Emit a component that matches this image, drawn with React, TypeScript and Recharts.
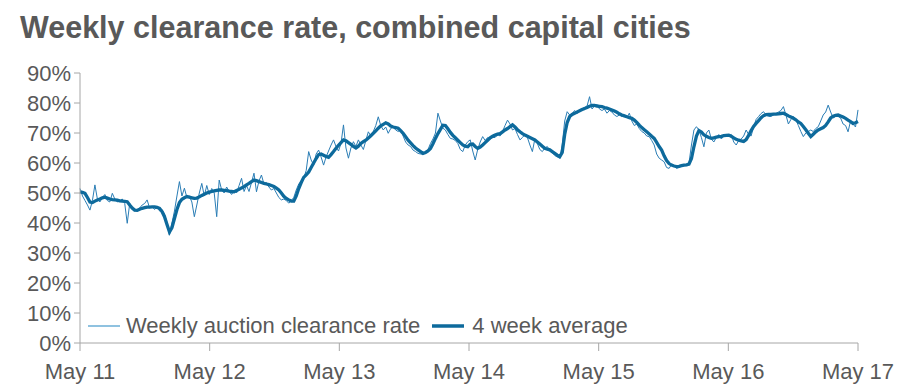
import { Line, LineChart, XAxis, YAxis } from "recharts";

// Weekly auction clearance rate (%), one array per year from May of each year
const weekly2011 = [
  51.5, 49.0, 47.5, 46.0, 44.3, 47.5, 52.7, 48.0, 47.0, 48.5, 49.5, 47.5, 47.0,
  49.9, 48.0, 47.0, 47.5, 48.0, 46.5, 39.9, 46.5, 45.0, 44.0, 44.5, 45.0, 46.0,
  46.5, 47.7, 45.0, 45.5, 44.5, 45.5, 44.0, 44.5, 43.0, 40.0, 36.0, 40.0, 44.0,
  49.0, 53.8, 49.0, 51.6, 48.5, 49.0, 47.0, 42.1, 46.0, 50.0, 53.2, 49.0, 52.5,
];
const weekly2012 = [
  49.5, 51.5, 50.0, 42.1, 54.3, 51.0, 50.0, 52.0, 50.5, 49.5, 51.0, 50.0, 52.5,
  54.9, 50.5, 52.5, 50.5, 53.5, 56.6, 50.4, 54.0, 56.0, 53.0, 53.5, 52.0, 51.0,
  51.5, 50.0, 48.5, 47.7, 48.0, 47.5, 46.6, 47.5, 48.5, 51.0, 53.0, 54.0, 55.0,
  57.5, 63.8, 61.0, 59.3, 63.0, 64.3, 62.0, 59.3, 62.0, 64.0, 66.0, 67.7, 65.5,
];
const weekly2013 = [
  64.0, 66.5, 72.7, 65.0, 61.6, 65.0, 67.1, 65.5, 67.7, 66.0, 64.5, 67.5, 70.4,
  69.0, 70.5, 72.5, 75.4, 72.5, 71.0, 72.0, 69.9, 71.5, 72.0, 71.0, 70.5, 71.0,
  69.0, 67.0, 66.0, 65.5, 64.3, 63.8, 63.2, 63.0, 63.0, 63.5, 64.5, 66.5, 68.0,
  70.0, 76.6, 74.0, 71.6, 71.0, 69.5, 68.2, 68.0, 67.5, 66.5, 64.5, 63.8, 66.0,
];
const weekly2014 = [
  67.1, 67.7, 64.0, 61.0, 64.5, 67.0, 68.8, 67.5, 68.5, 68.0, 68.5, 68.5, 69.5,
  69.0, 70.5, 72.5, 74.3, 73.0, 71.0, 71.5, 69.5, 67.7, 68.5, 69.5, 68.5, 66.0,
  63.8, 68.0, 66.5, 64.5, 63.8, 65.0, 65.5, 64.0, 63.5, 62.5, 62.0, 61.6, 66.0,
  74.0, 77.1, 76.0, 76.5, 77.5, 76.5, 77.8, 78.0, 78.5, 79.0, 82.1, 78.0, 79.0,
];
const weekly2015 = [
  79.5, 78.0, 77.5, 78.0, 76.6, 77.5, 77.0, 76.0, 75.5, 76.0, 75.5, 76.0, 75.0,
  76.6, 74.0, 72.5, 73.0, 71.5, 70.5, 70.0, 69.0, 68.8, 67.5, 66.0, 63.0, 61.6,
  61.0, 60.4, 58.5, 58.2, 59.5, 59.0, 58.2, 58.5, 59.0, 59.5, 59.5, 60.0, 66.0,
  71.0, 72.1, 71.0, 68.5, 65.4, 70.0, 71.0, 68.0, 67.0, 68.5, 69.5, 68.0, 69.0,
];
const weekly2016 = [
  69.5, 69.0, 69.5, 67.0, 66.0, 67.5, 68.0, 69.0, 71.0, 69.5, 69.0, 72.0, 74.5,
  75.5, 76.5, 77.1, 76.0, 75.5, 75.5, 76.0, 76.5, 77.0, 77.5, 78.8, 76.0, 73.0,
  74.5, 75.5, 74.5, 72.5, 70.5, 68.8, 70.0, 70.5, 71.0, 70.5, 71.5, 72.1, 74.0,
  76.0, 77.0, 79.3, 77.0, 75.0, 75.5, 75.5, 75.0, 73.0, 72.5, 70.4, 74.0, 73.0,
  72.0, 77.7,
];

// 4 week average (%)
const avg2011 = [
  50.4, 50.2, 49.9, 48.5, 47.0, 46.8, 47.3, 47.7, 48.0, 48.4, 48.6, 48.3, 48.0,
  47.8, 47.7, 47.6, 47.4, 47.3, 47.2, 47.1, 46.0, 45.0, 44.3, 44.2, 44.6, 44.9,
  45.1, 45.3, 45.3, 45.4, 45.4, 45.2, 44.9, 43.8, 42.1, 39.5, 37.0, 38.5, 41.5,
  44.5, 46.8, 47.9, 48.4, 48.8, 48.6, 48.4, 48.2, 48.3, 48.7, 49.2, 49.6, 50.0,
];
const avg2012 = [
  50.3, 50.5, 50.7, 50.9, 51.0, 51.0, 50.9, 50.8, 50.6, 50.5, 50.4, 50.8, 51.2,
  51.7, 52.1, 52.7, 53.2, 53.8, 54.3, 54.1, 53.8, 53.5, 53.2, 53.0, 52.8, 52.5,
  52.2, 51.6, 51.0, 50.0, 48.9, 48.2, 47.7, 47.3, 47.3, 49.0, 51.5, 53.5, 55.2,
  56.0, 57.0, 58.5, 60.0, 61.5, 62.8, 63.0, 62.6, 62.2, 61.9, 62.8, 63.8, 64.9,
];
const avg2013 = [
  65.9, 66.8, 67.7, 67.4, 66.8, 66.2, 65.5, 65.0, 65.6, 66.5, 67.1, 67.6, 68.3,
  69.1, 69.9, 70.7, 71.6, 72.4, 72.9, 73.4, 73.0, 72.3, 72.0, 71.8, 71.6, 70.8,
  69.9, 68.8, 67.6, 66.7, 65.8, 65.0, 64.4, 63.8, 63.2, 63.5, 64.0, 64.8, 66.4,
  68.2, 69.8, 71.2, 72.6, 72.5, 71.4, 70.2, 69.2, 68.4, 67.6, 66.8, 66.0, 65.6,
];
const avg2014 = [
  65.4, 66.2, 66.3, 65.5, 64.9, 65.3, 66.0, 66.8, 67.6, 68.4, 68.9, 69.3, 69.6,
  69.8, 70.4, 71.0, 71.5, 72.1, 72.7, 72.0, 71.1, 70.4, 69.8, 69.3, 68.9, 68.5,
  68.1, 67.7, 67.0, 66.3, 65.6, 64.9, 64.6, 64.4, 63.8, 63.2, 62.6, 62.1, 63.5,
  69.5, 73.5, 75.5, 76.2, 76.6, 77.0, 77.4, 77.8, 78.2, 78.5, 78.9, 79.2, 79.2,
];
const avg2015 = [
  79.0, 78.9, 78.8, 78.5, 78.3, 78.0, 77.7, 77.3, 76.9, 76.4, 76.0, 75.7, 75.4,
  75.1, 74.9, 74.3, 73.5, 72.6, 71.8, 71.1, 70.4, 69.7, 68.9, 68.2, 66.9, 65.5,
  64.3, 62.4, 60.8, 59.8, 59.3, 59.0, 58.8, 58.9, 59.1, 59.3, 59.4, 59.6, 61.5,
  65.5, 69.0, 70.8, 70.3, 69.4, 68.9, 68.5, 68.2, 68.4, 68.6, 68.8, 68.9, 69.1,
];
const avg2016 = [
  69.2, 69.3, 68.9, 68.4, 67.9, 67.6, 67.4, 67.2, 67.8, 69.2, 70.8, 72.2, 73.2,
  74.1, 75.1, 75.8, 76.1, 76.2, 76.2, 76.3, 76.3, 76.4, 76.5, 76.6, 76.2, 75.7,
  75.3, 74.9, 74.4, 73.7, 73.2, 72.2, 71.1, 69.9, 68.8, 69.6, 70.4, 71.0, 71.4,
  71.8, 72.5, 73.7, 75.0, 75.6, 75.9, 76.0, 75.7, 75.3, 74.9, 74.3, 73.8, 73.2,
  73.4, 73.8,
];

const tickLabels = ["May 11", "May 12", "May 13", "May 14", "May 15", "May 16", "May 17"];
const tickWeeks = [0, 52.17, 104.33, 156.5, 208.67, 260.83, 313];
const yTicks = [0, 10, 20, 30, 40, 50, 60, 70, 80, 90];

const weekly = [
  ...weekly2011,
  ...weekly2012,
  ...weekly2013,
  ...weekly2014,
  ...weekly2015,
  ...weekly2016,
];
const average = [...avg2011, ...avg2012, ...avg2013, ...avg2014, ...avg2015, ...avg2016];

const data = weekly.map((v, i) => ({ week: i, weekly: v, avg: average[i] }));

const FONT = "'Liberation Sans', Arial, sans-serif";
const TEXT = "#595959";
const AXIS = "#a6a6a6";
const THIN = "#2a7db5";
const THICK = "#0d6a9c";

function ChartLegend() {
  return (
    <div
      style={{
        position: "absolute",
        left: 86,
        top: 313,
        display: "flex",
        alignItems: "center",
        fontFamily: FONT,
        fontSize: 22,
        color: TEXT,
        whiteSpace: "nowrap",
      }}
    >
      <svg width={36} height={10}>
        <line x1={2} y1={5} x2={34} y2={5} stroke="#6aaed6" strokeWidth={1.5} />
      </svg>
      <span style={{ marginLeft: 4, marginRight: 10 }}>Weekly auction clearance rate</span>
      <svg width={36} height={10}>
        <line x1={2} y1={5} x2={34} y2={5} stroke={THICK} strokeWidth={3.5} />
      </svg>
      <span style={{ marginLeft: 6 }}>4 week average</span>
    </div>
  );
}

export default function App() {
  return (
    <div
      style={{
        position: "absolute",
        left: 0,
        top: 0,
        width: 903,
        height: 392,
        background: "#fff",
        overflow: "hidden",
      }}
    >
      <div
        style={{
          position: "absolute",
          left: 20,
          top: 10,
          fontFamily: FONT,
          fontWeight: "bold",
          fontSize: 30.5,
          color: TEXT,
          whiteSpace: "nowrap",
        }}
      >
        Weekly clearance rate, combined capital cities
      </div>
      <div style={{ position: "absolute", left: 0, top: 0 }}>
        <LineChart
          width={903}
          height={392}
          data={data}
          margin={{ top: 73, right: 45, bottom: 0, left: 0 }}
        >
          <XAxis
            dataKey="week"
            type="number"
            domain={[0, 313]}
            ticks={tickWeeks}
            tickFormatter={(_v: number, i: number) => tickLabels[i]}
            interval={0}
            height={49}
            tickSize={8}
            tick={{ fill: TEXT, fontSize: 22, fontFamily: FONT }}
            stroke={AXIS}
            tickMargin={12}
          />
          <YAxis
            domain={[0, 90]}
            ticks={yTicks}
            interval={0}
            width={80}
            tickSize={6}
            tickFormatter={(v: number) => `${v}%`}
            tick={{ fill: TEXT, fontSize: 22, fontFamily: FONT }}
            stroke={AXIS}
            tickMargin={3}
          />
          <Line
            type="linear"
            dataKey="weekly"
            stroke={THIN}
            strokeWidth={1}
            dot={false}
            isAnimationActive={false}
          />
          <Line
            type="linear"
            dataKey="avg"
            stroke={THICK}
            strokeWidth={3.3}
            dot={false}
            isAnimationActive={false}
          />
        </LineChart>
      </div>
      <ChartLegend />
    </div>
  );
}
